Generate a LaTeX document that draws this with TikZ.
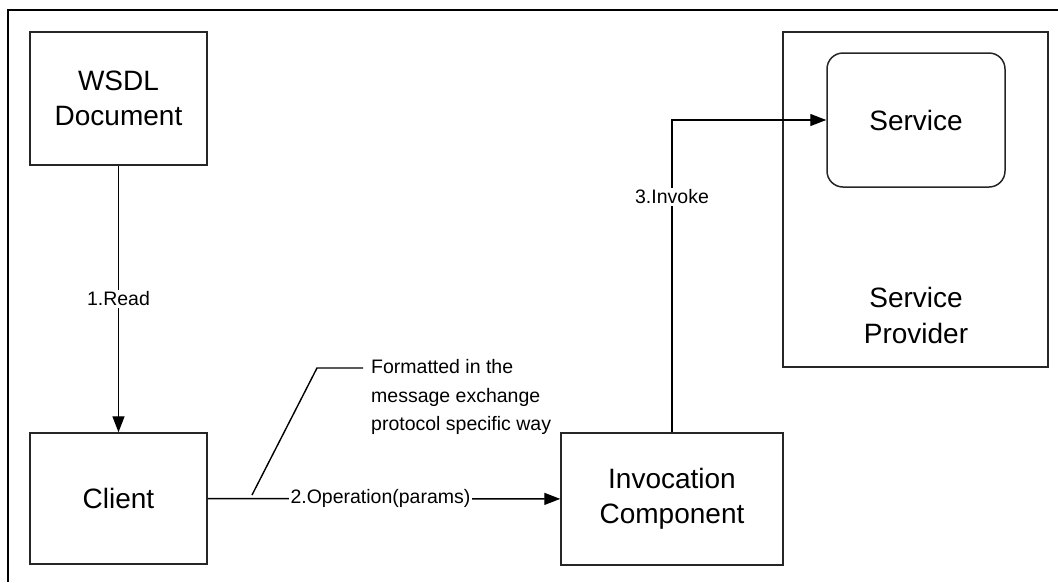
\documentclass[tikz,border=0pt]{standalone}
\usepackage{fontspec}
\setmainfont{Liberation Sans}
\usetikzlibrary{arrows.meta}
\begin{document}
\begin{tikzpicture}[x=1pt,y=-1pt,
  box/.style={draw=black!85, line width=1.5pt, rectangle, inner sep=0pt, align=center,
    font=\fontsize{28}{35}\selectfont},
  rbox/.style={box, rounded corners=16pt},
  bigtext/.style={inner sep=0pt, align=center, font=\fontsize{28}{36}\selectfont},
  lbl/.style={fill=white, inner sep=2pt, font=\fontsize{19.5}{28.5}\selectfont},
  note/.style={inner sep=0pt, align=left, anchor=west, font=\fontsize{19.5}{28.5}\selectfont},
  conn/.style={draw=black, line width=1.4pt},
  arr/.style={conn, -{Triangle[length=16pt,width=12pt]}}
]
\useasboundingbox (0,0) rectangle (1058,582);
\draw[line width=1.8pt] (1058,10) -- (8,10) -- (8,582);

\node[box, minimum width=177pt, minimum height=133pt] (wsdl) at (118.5,98.5) {WSDL\\Document};
\node[box, minimum width=177pt, minimum height=131pt] (client) at (118.5,498.5) {Client};
\node[box, minimum width=222pt, minimum height=132pt] (inv) at (672,499) {Invocation\\Component};
\node[box, minimum width=265pt, minimum height=335pt] (sp) at (915.5,199.5) {};
\node[rbox, minimum width=178pt, minimum height=134pt] (service) at (916,120) {Service};
\node[bigtext] (splabel) at (916,315) {Service\\Provider};

\draw[arr] (wsdl) -- node[lbl, midway] (l1) {1.Read} (client);
\draw[arr] (client) -- node[lbl, pos=0.49] (l2) {2.Operation(params)} (inv);
\draw[arr] (inv.north) |- node[lbl, pos=0.377] (l3) {3.Invoke} (service.west);

\coordinate (c1) at (252,495);
\coordinate (c2) at (317,368);
\node[note] (fmt) at (371,397) {Formatted in the\\message exchange\\protocol specific way};
\coordinate (c3) at (363,368);
\draw[conn] (c1) -- (c2) -- (c3);
\end{tikzpicture}
\end{document}
